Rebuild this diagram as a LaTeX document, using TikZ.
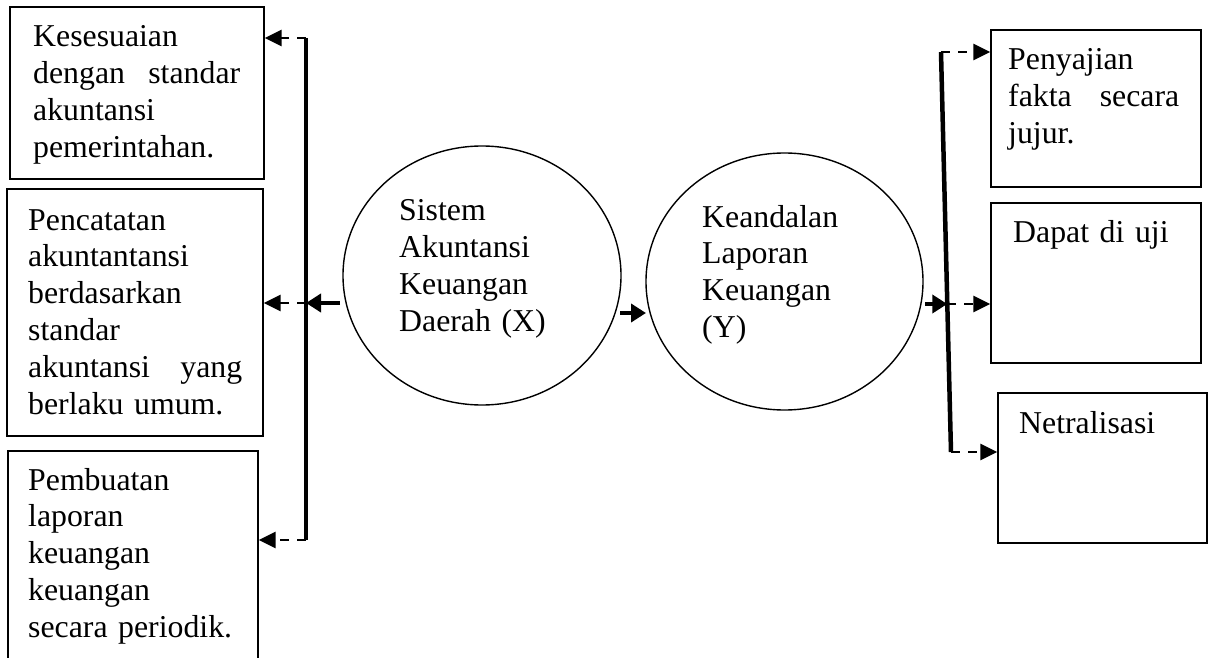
\documentclass[tikz,border=0pt]{standalone}
\usepackage{fontspec}
\setmainfont{Liberation Serif}
\usetikzlibrary{arrows.meta,shapes.geometric}
\newcommand{\jline}[1]{\leavevmode\hbox to\linewidth{#1}}
\begin{document}
\begin{tikzpicture}[x=1pt,y=-1pt,
  box/.style={draw,line width=1.4pt,inner sep=0pt,rectangle},
  oval/.style={draw,line width=1.4pt,ellipse,inner sep=0pt},
  txt/.style={inner sep=0pt,anchor=base west,align=left,font=\fontsize{31.8}{36.8}\selectfont},
  bar/.style={line width=4.5pt},
  dasharrow/.style={line width=2.8pt,dash pattern=on 9pt off 8pt,-{Triangle[length=17pt,width=16pt]}},
  solidarrow/.style={line width=4.5pt,-{Triangle[length=15pt,width=18pt]}},
]
\useasboundingbox (0,0) rectangle (1211,658);
\clip (0,0) rectangle (1211,658);
\fill[white] (0,0) rectangle (1211,658);

% left boxes
\node[box,minimum width=254pt,minimum height=172pt] (b1) at (137,93) {};
\node[box,minimum width=256pt,minimum height=247pt] (b2) at (135,312.5) {};
\node[box,minimum width=250pt,minimum height=219pt] (b3) at (133,560.5) {};
\node[txt,text width=207pt] (t1) at (33,47) {Kesesuaian\\\jline{dengan\hfill standar}\\akuntansi\\pemerintahan.};
\node[txt,text width=214pt] (t2) at (28,230) {Pencatatan\\akuntantansi\\berdasarkan\\standar\\\jline{akuntansi\hfill yang}\\berlaku umum.};
\node[txt,text width=214pt] (t3) at (28,490) {Pembuatan\\laporan\\keuangan\\keuangan\\secara periodik.};

% ellipses
\node[oval,minimum width=278pt,minimum height=259pt] (e1) at (482,275.5) {};
\node[oval,minimum width=277pt,minimum height=257pt] (e2) at (784.5,281.5) {};
\node[txt,text width=200pt] (te1) at (399,221) {Sistem\\Akuntansi\\Keuangan\\Daerah (X)};
\node[txt,text width=200pt] (te2) at (702,227) {Keandalan\\Laporan\\Keuangan\\(Y)};

% right boxes
\node[box,minimum width=210pt,minimum height=157pt] (r1) at (1096,108.5) {};
\node[box,minimum width=210pt,minimum height=160pt] (r2) at (1096,283) {};
\node[box,minimum width=209pt,minimum height=150pt] (r3) at (1102.5,468) {};
\node[txt,text width=171pt] (tr1) at (1008,70) {Penyajian\\\jline{fakta\hfill secara}\\jujur.};
\node[txt,text width=180pt] (tr2) at (1013,243) {Dapat di uji};
\node[txt,text width=180pt] (tr3) at (1019,433) {Netralisasi};

% left bracket
\coordinate (lt) at (306,38);
\coordinate (lm) at (306,303);
\coordinate (lb) at (306,540);
\coordinate (le) at (340,303);
\draw[bar] (lt) -- (lb);
\draw[dasharrow] (lt) -- (lt -| b1.east);
\draw[dasharrow] (lm) -- (lm -| b2.east);
\draw[dasharrow] (lb) -- (lb -| b3.east);
\draw[solidarrow] (le) -- (lm);

% between ellipses
\coordinate (m1) at (620,313);
\coordinate (m2) at (646,313);
\draw[solidarrow] (m1) -- (m2);

% right bracket
\coordinate (rt) at (941,52);
\coordinate (rm) at (947.3,304);
\coordinate (rb) at (951,452);
\coordinate (re) at (925,304);
\draw[bar] (rt) -- (rb);
\draw[dasharrow] (rt) -- (rt -| r1.west);
\draw[dasharrow] (rm) -- (rm -| r2.west);
\draw[dasharrow] (rb) -- (rb -| r3.west);
\draw[solidarrow] (re) -- (rm);
\end{tikzpicture}
\end{document}
